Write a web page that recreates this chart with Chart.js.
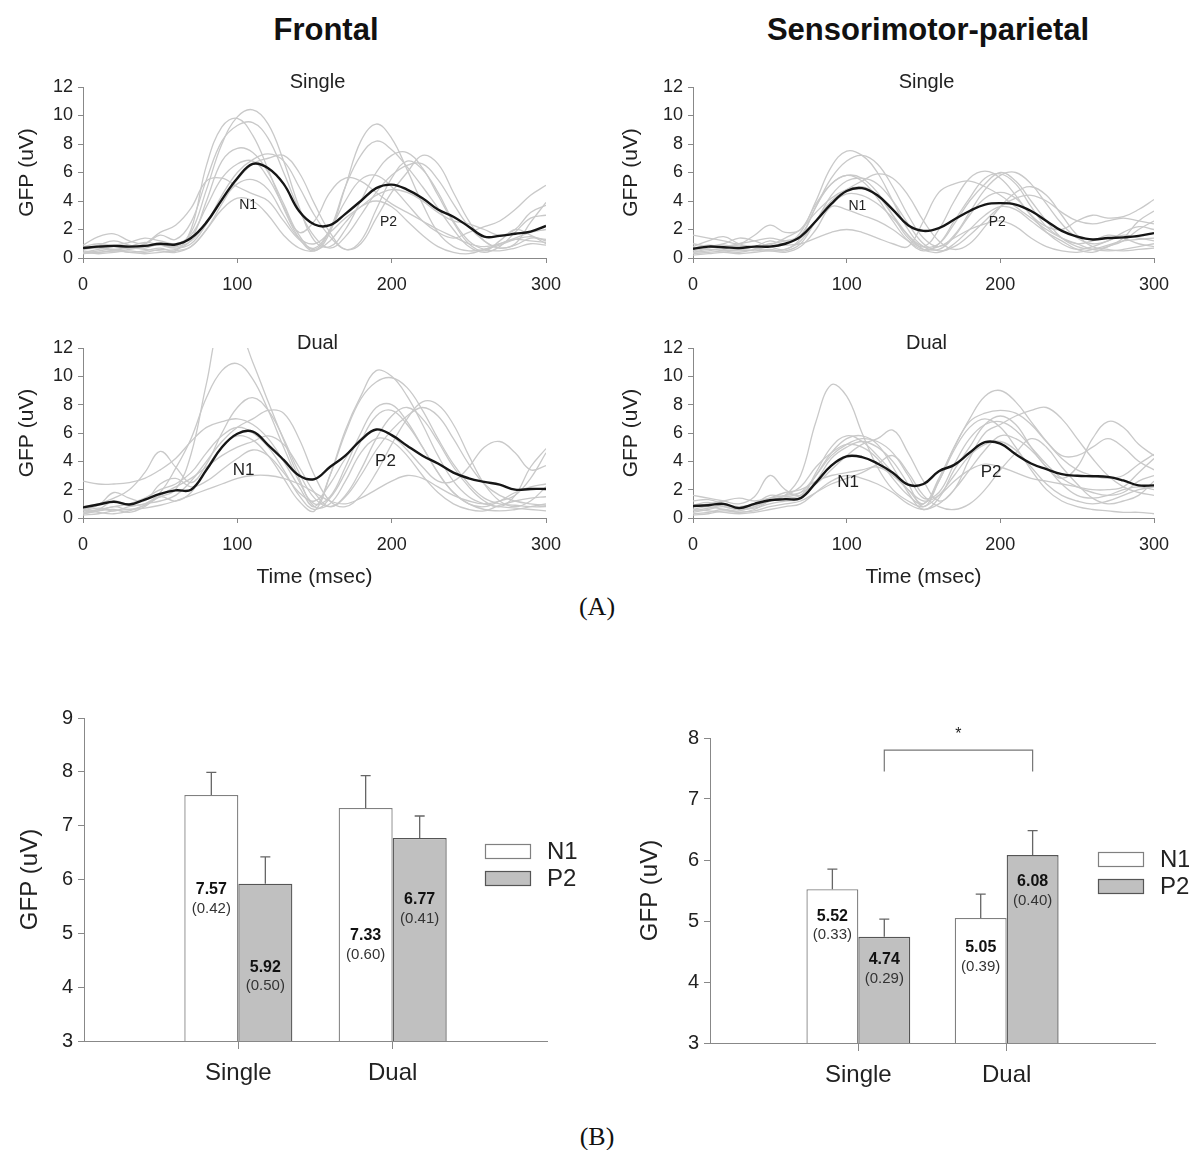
<!DOCTYPE html>
<html>
<head>
<meta charset="utf-8">
<script src="https://cdn.jsdelivr.net/npm/chart.js@4.4.1/dist/chart.umd.min.js"></script>
<style>
  body { margin: 0; background: #fff; }
  #fig { position: relative; width: 1189px; height: 1150px; font-family: "Liberation Sans", Arial, sans-serif; color: #111; }
  #fig canvas { position: absolute; }
  .txt { position: absolute; transform: translate(-50%, -50%); white-space: nowrap; }
  .head { font-weight: bold; font-size: 31px; }
  .panel { font-family: "Liberation Serif", "Times New Roman", serif; font-size: 26px; }
</style>
</head>
<body>
<div id="fig">
  <div class="txt head" style="left:326px;top:30px">Frontal</div>
  <div class="txt head" style="left:928px;top:30px">Sensorimotor-parietal</div>
  <div class="txt panel" style="left:597px;top:607px">(A)</div>
  <div class="txt panel" style="left:597px;top:1137px">(B)</div>
  <canvas id="fs" width="580" height="245" style="left:0px;top:60px"></canvas>
  <canvas id="fd" width="580" height="270" style="left:0px;top:320px"></canvas>
  <canvas id="ss" width="585" height="245" style="left:604px;top:60px"></canvas>
  <canvas id="sd" width="585" height="270" style="left:604px;top:320px"></canvas>
  <canvas id="fb" width="600" height="401" style="left:0px;top:690px"></canvas>
  <canvas id="sb" width="585" height="403" style="left:604px;top:690px"></canvas>
</div>
<script>
const FONT = '"Liberation Sans", Arial, sans-serif';

// ---- (A) GFP waveforms, sampled every 10 ms ----
const timeMs = [0,10,20,30,40,50,60,70,80,90,100,110,120,130,140,150,160,170,180,190,200,210,220,230,240,250,260,270,280,290,300];

const frontalSingleMean = [0.7,0.8,0.85,0.8,0.85,1.0,0.95,1.4,2.5,4.1, 5.6,6.6,6.3,5.2,3.3,2.35,2.3,3.1,4.0,4.9, 5.15,4.8,4.2,3.4,2.9,2.2,1.5,1.55,1.7,1.85,2.25];
const frontalSingleSubjects = [
  [0.6,0.9,1.2,0.9,0.7,1.0,0.8,1.8,4.8,8.0, 9.9,10.4,9.4,6.8,3.6,1.2,0.8,2.0,4.0,6.0, 7.2,7.4,6.3,4.4,2.5,1.0,0.5,1.2,2.0,1.6,1.0],
  [0.3,0.5,0.6,0.4,0.5,0.7,0.5,2.0,6.5,9.2, 9.8,8.6,6.2,3.5,1.4,0.5,1.8,5.0,8.2,9.4, 8.4,6.2,3.8,1.8,0.8,0.5,0.6,0.9,1.3,1.5,1.2],
  [0.9,1.5,1.7,1.2,1.0,1.6,1.3,2.5,5.5,8.2, 9.3,9.5,8.4,6.0,3.4,1.5,0.7,1.5,3.0,4.6, 5.8,6.5,6.6,5.5,3.8,2.2,1.2,0.7,1.0,2.5,3.9],
  [0.4,0.3,0.4,0.5,0.4,0.6,0.6,1.3,4.0,6.8, 7.7,7.4,6.0,3.8,1.6,0.6,2.0,5.0,7.2,8.2, 7.6,6.4,5.0,3.5,2.0,0.8,0.4,0.8,1.8,2.8,3.0],
  [0.7,0.8,0.6,0.8,1.1,0.9,0.7,1.0,2.4,4.4, 6.0,6.9,7.3,6.8,5.0,3.0,1.5,0.6,1.0,2.8, 4.6,6.0,7.2,6.6,4.6,2.6,1.2,0.7,0.9,1.4,1.3],
  [0.5,0.4,0.5,0.7,0.6,0.5,0.4,0.8,2.0,3.8, 5.5,6.6,7.0,7.2,6.0,3.8,1.8,0.6,1.2,3.4, 5.6,6.8,6.2,4.6,2.6,1.2,0.6,0.5,0.7,1.0,0.9],
  [0.4,0.6,0.8,0.7,1.0,1.8,2.3,3.5,5.4,5.6, 5.0,4.5,4.0,2.6,1.3,0.7,2.0,4.0,5.5,5.8, 5.0,3.8,2.6,1.8,1.4,1.8,2.2,2.6,3.4,4.4,5.1],
  [0.6,0.7,0.5,0.6,0.8,0.9,0.8,1.2,2.5,4.0, 5.2,5.5,4.8,3.0,1.4,1.0,1.8,2.8,3.6,4.4, 4.8,4.6,4.0,3.2,2.6,2.4,2.0,1.6,2.0,3.2,3.7],
  [0.3,0.4,0.5,0.4,0.3,0.4,0.5,0.8,2.0,3.4, 4.2,4.0,3.0,1.6,0.7,0.5,1.2,2.5,3.6,4.0, 3.6,2.6,1.6,0.8,0.4,0.3,0.6,1.0,1.4,1.8,2.0],
  [0.8,1.0,0.9,1.1,1.4,1.2,1.0,1.6,3.6,5.6, 6.6,6.8,5.6,3.6,1.8,2.6,4.6,5.6,5.4,4.6, 3.8,3.2,2.6,2.0,1.5,1.0,0.8,1.0,1.3,1.2,1.1]
];

const frontalDualMean = [0.75,0.95,1.15,0.95,1.3,1.7,1.95,2.0,3.4,5.0, 5.95,6.1,5.15,4.1,3.0,2.75,3.6,4.4,5.5,6.25, 5.85,5.1,4.4,3.85,3.2,2.8,2.55,2.35,2.0,2.05,2.05];
const frontalDualSubjects = [
  [0.3,0.5,0.8,0.6,0.9,1.5,2.0,4.5,9.5,14.0, 13.5,11.0,8.2,5.5,2.8,0.8,1.0,2.6,4.6,5.6, 5.4,4.4,3.0,1.8,1.0,0.6,0.5,0.9,1.2,1.4,1.5],
  [0.4,0.6,1.2,0.9,1.0,1.8,3.5,5.6,8.5,10.4, 10.9,9.8,7.6,5.0,2.6,1.0,1.5,3.6,6.0,7.8, 8.0,6.8,5.0,3.2,1.8,1.0,0.8,1.2,1.8,2.2,2.4],
  [2.6,2.4,2.4,2.5,2.8,3.4,4.2,5.4,6.4,6.8, 7.0,6.6,5.6,4.0,2.2,0.8,3.0,6.0,8.4,9.6, 9.9,9.2,7.6,5.6,3.8,2.4,1.4,1.0,0.9,0.8,0.8],
  [0.3,0.5,0.6,0.4,0.8,1.5,1.2,1.8,3.5,5.0, 5.8,5.5,4.4,2.8,1.2,0.5,3.0,6.2,8.6,10.4, 10.0,8.6,6.6,4.4,2.6,1.5,1.0,0.8,0.7,0.6,0.5],
  [0.8,1.0,1.4,2.0,3.2,4.7,3.6,2.5,3.8,6.0, 7.8,8.5,7.6,5.6,3.2,1.4,0.8,1.6,3.4,5.6, 7.2,7.8,7.0,5.4,3.6,2.2,1.2,0.8,1.6,3.6,4.9],
  [0.5,0.7,0.5,0.8,1.0,1.2,1.6,2.6,4.0,5.4, 6.4,7.0,7.6,7.4,5.6,3.0,1.2,0.8,1.6,3.2, 5.2,7.0,8.2,8.0,6.6,4.4,2.4,1.2,0.8,1.2,2.2],
  [0.6,0.9,1.8,1.4,1.2,2.4,2.8,2.2,2.6,3.4, 4.2,4.8,4.4,3.2,1.8,1.2,2.4,4.2,5.6,6.2, 5.8,4.8,3.6,2.6,2.6,3.6,5.0,5.4,4.6,3.4,3.7],
  [0.2,0.3,0.5,0.6,0.7,0.9,1.2,1.6,2.0,2.4, 2.8,3.0,3.0,2.8,2.4,1.8,1.2,1.0,1.4,2.0, 2.6,3.0,2.8,2.2,1.6,1.2,1.0,1.2,1.6,2.8,4.6],
  [0.4,0.6,0.8,1.0,1.4,2.0,2.4,3.2,4.6,5.8, 6.4,6.0,5.0,3.4,1.6,0.6,1.4,3.2,5.4,7.2, 7.6,6.6,5.0,3.2,1.8,1.0,0.6,0.5,0.6,0.8,1.0],
  [0.6,0.4,0.3,0.5,0.9,1.6,2.2,2.8,3.6,4.4, 5.0,5.4,5.8,5.2,3.6,1.8,0.8,1.5,3.0,4.8, 6.2,7.2,7.8,7.2,5.6,3.8,2.4,1.6,1.2,1.0,0.9]
];

const sensSingleMean = [0.65,0.8,0.75,0.7,0.8,0.8,1.0,1.5,2.6,3.8, 4.7,4.9,4.4,3.4,2.3,1.9,2.1,2.7,3.3,3.75, 3.85,3.75,3.3,2.6,1.9,1.5,1.3,1.4,1.45,1.55,1.75];
const sensSingleSubjects = [
  [0.5,0.7,0.9,0.7,0.8,1.2,1.0,1.8,4.0,6.4, 7.5,7.2,6.0,4.0,2.0,0.8,0.6,1.5,3.0,4.2, 4.6,4.2,3.0,1.8,1.0,0.6,0.8,1.2,1.6,1.4,1.2],
  [0.8,1.2,1.5,1.0,0.8,1.0,1.2,1.6,3.6,5.6, 6.8,7.2,6.6,5.0,3.0,1.4,0.8,1.6,3.2,4.8, 5.8,6.0,5.2,3.8,2.4,1.4,1.0,1.2,1.8,2.2,2.0],
  [0.3,0.4,0.5,0.6,0.5,0.6,0.5,1.0,2.6,4.0, 4.8,5.4,5.9,5.6,4.4,2.6,1.2,0.6,1.0,2.2, 3.6,4.6,5.0,4.4,3.0,1.6,0.8,0.6,0.5,0.6,0.7],
  [1.6,1.4,1.2,1.0,1.6,2.3,1.8,2.0,3.8,5.2, 5.8,5.6,4.6,3.0,1.4,0.8,2.0,4.0,5.6,6.1, 5.6,4.4,3.0,2.2,2.0,2.6,3.0,2.8,2.9,3.4,4.1],
  [0.4,0.5,0.7,0.9,0.7,0.5,0.6,1.2,2.6,3.8, 4.5,4.4,3.8,2.8,1.6,0.8,1.0,2.4,4.0,5.2, 6.0,5.4,4.0,2.6,1.4,0.8,0.6,0.8,1.4,2.6,3.3],
  [1.0,0.8,0.6,0.5,0.6,0.8,0.9,1.0,1.4,1.8, 2.0,1.8,1.4,1.0,0.8,2.6,4.6,5.2,5.4,5.0, 4.4,3.6,2.8,2.0,1.4,1.0,0.6,0.5,0.6,0.8,1.0],
  [0.4,0.6,0.5,0.4,0.6,0.9,1.4,2.0,3.2,4.2, 4.8,5.0,4.4,3.0,1.6,0.6,0.4,1.0,2.0,3.0, 3.6,3.4,2.6,1.8,1.2,0.6,0.4,0.8,1.2,2.0,2.6],
  [0.6,0.8,1.0,1.4,1.2,0.8,0.6,1.4,3.6,5.2, 5.8,5.4,4.2,2.6,1.2,0.5,1.0,2.6,4.2,5.6, 5.9,5.2,3.6,2.2,1.4,1.0,1.2,1.6,1.4,1.0,0.8],
  [0.2,0.3,0.4,0.3,0.4,0.5,0.4,0.8,2.0,3.6, 3.4,3.0,2.6,2.0,1.2,0.6,0.8,1.4,2.0,2.4, 2.6,2.2,1.4,0.8,0.5,0.4,0.6,0.9,1.2,1.3,1.4],
  [0.7,0.9,0.8,1.0,1.2,1.4,1.2,1.4,2.6,4.4, 5.4,5.6,5.2,4.0,2.4,1.0,0.5,0.8,1.6,2.6, 3.6,4.2,4.4,4.0,3.2,2.6,2.4,2.6,2.8,2.6,2.4]
];

const sensDualMean = [0.85,0.9,1.0,0.7,1.0,1.25,1.33,1.4,2.5,3.7, 4.35,4.3,3.85,3.2,2.35,2.4,3.3,3.75,4.6,5.35, 5.25,4.5,3.85,3.45,3.1,2.98,2.95,2.9,2.65,2.3,2.3];
const sensDualSubjects = [
  [0.6,0.8,0.6,0.5,0.8,1.2,1.6,3.0,6.8,9.4, 8.6,6.0,3.6,2.0,1.2,0.8,1.6,3.0,4.4,5.2, 5.4,4.8,3.6,2.4,1.6,1.2,1.0,1.2,1.6,2.0,2.2],
  [1.6,1.4,1.2,1.0,1.5,3.0,2.0,1.6,2.6,4.2, 5.0,5.4,5.0,4.0,2.4,0.8,2.6,5.0,6.8,7.4, 7.6,7.4,6.6,5.4,4.4,4.4,5.0,5.6,5.0,4.0,3.4],
  [0.4,0.6,0.8,0.6,0.7,1.0,1.2,1.4,3.2,5.0, 5.8,5.4,4.4,3.2,2.0,1.0,2.8,5.0,7.0,8.6, 9.0,8.2,6.8,5.4,4.2,3.4,3.0,2.8,3.0,3.8,4.5],
  [0.8,1.0,1.2,1.4,1.2,1.4,1.6,1.8,2.4,3.4, 4.4,5.2,5.6,6.2,4.6,2.6,1.2,2.0,4.2,6.0, 6.6,7.2,7.6,7.8,7.0,5.6,4.2,3.0,2.2,1.8,1.6],
  [0.3,0.4,0.6,0.4,0.6,1.2,1.4,1.6,3.0,4.6, 5.6,5.8,5.2,3.6,1.8,0.6,1.4,3.4,5.0,6.6, 7.2,6.6,5.0,3.6,2.8,3.6,5.6,6.8,6.4,5.2,4.4],
  [0.6,0.5,0.4,0.3,0.4,0.6,0.8,1.0,1.8,2.6, 3.0,2.8,2.4,1.8,1.0,0.6,1.0,2.0,3.4,4.8, 5.8,5.6,4.8,3.6,2.4,1.6,1.4,1.6,2.0,2.2,2.0],
  [0.9,1.1,0.8,0.6,0.8,1.2,1.6,2.2,3.6,4.6, 5.2,5.0,4.2,2.8,1.6,1.0,2.6,4.8,6.4,7.0, 6.4,5.0,3.4,2.0,1.2,0.8,0.6,0.5,0.4,0.4,0.3],
  [0.5,0.7,0.9,0.7,0.9,1.4,1.8,2.0,2.6,3.0, 3.2,3.4,3.6,3.0,2.0,1.2,1.6,2.6,3.4,3.8, 3.6,3.2,2.8,2.6,2.4,2.2,2.0,2.0,2.2,3.2,4.2],
  [0.2,0.3,0.5,0.4,0.5,0.8,1.0,1.2,1.8,2.4, 2.8,3.2,3.8,4.4,3.2,1.6,0.8,0.6,1.0,2.0, 3.4,4.6,5.6,5.0,3.6,2.4,1.4,1.0,1.2,1.6,2.6],
  [1.2,1.3,1.0,0.8,1.0,1.6,1.5,1.8,3.0,4.4, 5.2,5.6,5.4,4.6,3.0,1.4,1.8,3.8,5.6,6.6, 6.8,6.2,5.0,3.8,2.8,2.2,1.8,1.6,1.8,2.6,3.0]
];

const yTicksWave = [0, 12];   // range of GFP axis in (A)
const xTicksWave = [0, 300];  // range of time axis in (A)

// ---- (B) peak amplitudes (mean, SE) ----
const conditions = ['Single', 'Dual'];
const components = ['N1', 'P2'];
const frontalN1 = [7.57, 7.33];
const frontalN1Se = [0.42, 0.60];
const frontalP2 = [5.92, 6.77];
const frontalP2Se = [0.50, 0.41];
const sensN1 = [5.52, 5.05];
const sensN1Se = [0.33, 0.39];
const sensP2 = [4.74, 6.08];
const sensP2Se = [0.29, 0.40];

// ---------- plugins ----------
const waveDeco = {
  id: 'waveDeco',
  afterDatasetsDraw(chart, args, o) {
    const {ctx, chartArea, scales} = chart;
    ctx.save();
    ctx.fillStyle = '#222';
    ctx.textAlign = 'center';
    ctx.textBaseline = 'middle';
    ctx.font = '20px ' + FONT;
    ctx.fillText(o.title, (chartArea.left + chartArea.right) / 2 + 3, chartArea.top - 5);
    ctx.font = o.markSize + 'px ' + FONT;
    o.marks.forEach(m => {
      ctx.fillText(m.text, scales.x.getPixelForValue(m.x), scales.y.getPixelForValue(m.y));
    });
    ctx.restore();
  }
};

const barDeco = {
  id: 'barDeco',
  afterDatasetsDraw(chart, args, o) {
    const {ctx, chartArea, scales: {y}} = chart;
    ctx.save();
    ctx.textAlign = 'center';
    ctx.textBaseline = 'middle';
    chart.data.datasets.forEach((ds, di) => {
      chart.getDatasetMeta(di).data.forEach((bar, i) => {
        const v = ds.data[i];
        if (v == null) return;
        const se = ds.se[i];
        const top = y.getPixelForValue(v + se);
        ctx.strokeStyle = '#666';
        ctx.lineWidth = 1.3;
        ctx.beginPath();
        ctx.moveTo(bar.x, bar.y);
        ctx.lineTo(bar.x, top);
        ctx.moveTo(bar.x - 5, top);
        ctx.lineTo(bar.x + 5, top);
        ctx.stroke();
        const ly = y.getPixelForValue(o.labelAt[di][i - 1]);
        ctx.fillStyle = '#111';
        ctx.font = 'bold 16px ' + FONT;
        ctx.fillText(v.toFixed(2), bar.x, ly);
        ctx.fillStyle = '#333';
        ctx.font = '15px ' + FONT;
        ctx.fillText('(' + se.toFixed(2) + ')', bar.x, ly + 19);
      });
    });
    // legend
    const lx = chartArea.right + o.legend.dx;
    chart.data.datasets.forEach((ds, di) => {
      const cy = chartArea.top + o.legend.dy + di * 27;
      ctx.fillStyle = ds.backgroundColor;
      ctx.strokeStyle = ds.borderColor;
      ctx.lineWidth = 1.2;
      ctx.fillRect(lx, cy - 7, 45, 14);
      ctx.strokeRect(lx + 0.5, cy - 6.5, 45, 14);
      ctx.fillStyle = '#222';
      ctx.textAlign = 'left';
      ctx.font = '24px ' + FONT;
      ctx.fillText(ds.label, lx + 62, cy + 1);
    });
    // significance bracket
    if (o.bracket) {
      const b = o.bracket;
      const x1 = chart.getDatasetMeta(b.from[0]).data[b.from[1]].x;
      const x2 = chart.getDatasetMeta(b.to[0]).data[b.to[1]].x;
      const yt = y.getPixelForValue(b.y);
      const yb = y.getPixelForValue(b.drop);
      ctx.strokeStyle = '#777';
      ctx.lineWidth = 1.2;
      ctx.beginPath();
      ctx.moveTo(x1, yb);
      ctx.lineTo(x1, yt);
      ctx.lineTo(x2, yt);
      ctx.lineTo(x2, yb);
      ctx.stroke();
      ctx.fillStyle = '#222';
      ctx.textAlign = 'center';
      ctx.font = '16px ' + FONT;
      ctx.fillText('*', (x1 + x2) / 2, y.getPixelForValue(b.star));
    }
    ctx.restore();
  }
};

// ---------- builders ----------
function pts(series) {
  return timeMs.map((t, i) => ({x: t, y: series[i]}));
}

function waveChart(id, mean, subjects, cfg) {
  const datasets = [{
    data: pts(mean), borderColor: '#161616', borderWidth: 2.4, tension: 0.4, pointRadius: 0
  }];
  subjects.forEach(s => datasets.push({
    data: pts(s), borderColor: '#c9c9c9', borderWidth: 1.3, tension: 0.4, pointRadius: 0
  }));
  return new Chart(document.getElementById(id), {
    type: 'line',
    data: {datasets},
    plugins: [waveDeco],
    options: {
      responsive: false,
      animation: false,
      devicePixelRatio: 1,
      layout: {padding: cfg.padding},
      plugins: {
        legend: {display: false},
        tooltip: {enabled: false},
        waveDeco: {title: cfg.title, marks: cfg.marks, markSize: cfg.markSize}
      },
      scales: {
        x: {
          type: 'linear', min: xTicksWave[0], max: xTicksWave[1],
          afterFit: s => { s.height = cfg.xHeight; },
          ticks: {stepSize: 100, color: '#222', font: {size: 18, family: FONT}, padding: 11, maxRotation: 0},
          grid: {drawOnChartArea: false, tickLength: 5, color: '#888'},
          border: {color: '#888'},
          title: {display: !!cfg.xTitle, text: cfg.xTitle || '', color: '#222', font: {size: 21, family: FONT}, padding: 0}
        },
        y: {
          min: yTicksWave[0], max: yTicksWave[1],
          afterFit: s => { s.width = cfg.yWidth; },
          ticks: {stepSize: 2, color: '#222', font: {size: 18, family: FONT}, padding: 5},
          grid: {drawOnChartArea: false, tickLength: 5, color: '#888'},
          border: {color: '#888'},
          title: {display: true, text: 'GFP (uV)', color: '#222', font: {size: 21, family: FONT}, padding: 0}
        }
      }
    }
  });
}

function barChart(id, n1, n1Se, p2, p2Se, cfg) {
  return new Chart(document.getElementById(id), {
    type: 'bar',
    data: {
      labels: ['', ...conditions, ''],
      datasets: [
        {label: components[0], data: [null, ...n1, null], se: [null, ...n1Se, null],
         backgroundColor: '#ffffff', borderColor: '#808080', borderWidth: 1.3,
         categoryPercentage: 0.7, barPercentage: 1.0},
        {label: components[1], data: [null, ...p2, null], se: [null, ...p2Se, null],
         backgroundColor: '#c0c0c0', borderColor: '#555555', borderWidth: 1.3,
         categoryPercentage: 0.7, barPercentage: 1.0}
      ]
    },
    plugins: [barDeco],
    options: {
      responsive: false,
      animation: false,
      devicePixelRatio: 1,
      layout: {padding: cfg.padding},
      plugins: {
        legend: {display: false},
        tooltip: {enabled: false},
        barDeco: {labelAt: cfg.labelAt, legend: cfg.legend, bracket: cfg.bracket}
      },
      scales: {
        x: {
          offset: false,
          afterFit: s => { s.height = cfg.xHeight; },
          ticks: {color: '#222', font: {size: 24, family: FONT}, padding: 10, maxRotation: 0},
          grid: {offset: false, drawOnChartArea: false, tickLength: 8,
                 color: c => (c.index === 1 || c.index === 2) ? '#888' : 'rgba(0,0,0,0)'},
          border: {color: '#888'}
        },
        y: {
          min: cfg.yMin, max: cfg.yMax,
          afterFit: s => { s.width = cfg.yWidth; },
          ticks: {stepSize: 1, color: '#222', font: {size: 20, family: FONT}, padding: 5},
          grid: {drawOnChartArea: false, tickLength: 6, color: '#888'},
          border: {color: '#888'},
          title: {display: true, text: 'GFP (uV)', color: '#222', font: {size: 24, family: FONT}, padding: 0}
        }
      }
    }
  });
}

// ---------- charts ----------
waveChart('fs', frontalSingleMean, frontalSingleSubjects, {
  title: 'Single', padding: {left: 15, right: 34, top: 27, bottom: 0}, yWidth: 68, xHeight: 47,
  markSize: 14, marks: [{text: 'N1', x: 107, y: 3.7}, {text: 'P2', x: 198, y: 2.5}]
});
waveChart('fd', frontalDualMean, frontalDualSubjects, {
  title: 'Dual', padding: {left: 15, right: 34, top: 28, bottom: 0}, yWidth: 68, xHeight: 72,
  xTitle: 'Time (msec)',
  markSize: 17, marks: [{text: 'N1', x: 104, y: 3.4}, {text: 'P2', x: 196, y: 4.0}]
});
waveChart('ss', sensSingleMean, sensSingleSubjects, {
  title: 'Single', padding: {left: 15, right: 35, top: 27, bottom: 0}, yWidth: 74, xHeight: 47,
  markSize: 14, marks: [{text: 'N1', x: 107, y: 3.65}, {text: 'P2', x: 198, y: 2.5}]
});
waveChart('sd', sensDualMean, sensDualSubjects, {
  title: 'Dual', padding: {left: 15, right: 35, top: 28, bottom: 0}, yWidth: 74, xHeight: 72,
  xTitle: 'Time (msec)',
  markSize: 17, marks: [{text: 'N1', x: 101, y: 2.5}, {text: 'P2', x: 194, y: 3.2}]
});

barChart('fb', frontalN1, frontalN1Se, frontalP2, frontalP2Se, {
  yMin: 3, yMax: 9, padding: {left: 16, right: 53, top: 28, bottom: 0}, yWidth: 68, xHeight: 50,
  labelAt: [[5.81, 4.95], [4.37, 5.62]],
  legend: {dx: -62, dy: 133}
});
barChart('sb', sensN1, sensN1Se, sensP2, sensP2Se, {
  yMin: 3, yMax: 8, padding: {left: 32, right: 34, top: 48, bottom: 0}, yWidth: 74, xHeight: 50,
  labelAt: [[5.08, 4.56], [4.36, 5.64]],
  legend: {dx: -57, dy: 121},
  bracket: {from: [1, 1], to: [1, 2], y: 7.8, drop: 7.45, star: 8.05}
});
</script>
</body>
</html>
